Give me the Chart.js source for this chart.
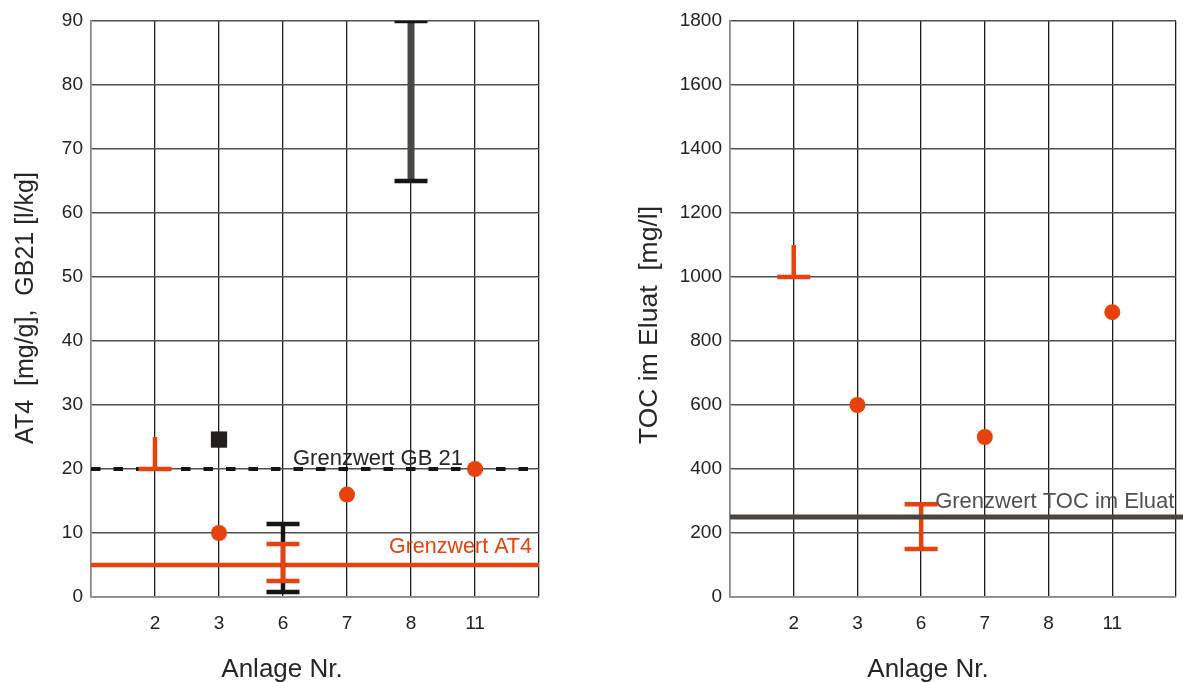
<!DOCTYPE html>
<html><head><meta charset="utf-8">
<script src="https://cdn.jsdelivr.net/npm/chart.js@4.4.1/dist/chart.umd.min.js"></script>
<style>
html,body{margin:0;padding:0;background:#fff;}
#wrap{position:relative;width:1183px;height:682px;overflow:hidden;background:#fff;}
.box{position:absolute;top:0;height:682px;}
#b1{left:0;width:560px;} #b2{left:620px;width:563px;}
canvas{display:block;}
</style></head><body>
<div id="wrap">
  <div class="box" id="b1"><canvas id="c1" width="560" height="682"></canvas></div>
  <div class="box" id="b2"><canvas id="c2" width="563" height="682"></canvas></div>
</div>
<script>
// ---------- data ----------
const categories = ['2', '3', '6', '7', '8', '11'];

// left panel: AT4 [mg/g] and GB21 [l/kg]
const at4Values   = [null, 10, null, 16, null, 20];
const at4Min      = [20, null, 2.5, null, null, null];
const at4Max      = [25, null, 8.3, null, null, null];
const at4OpenUpper = ['2'];
const gb21Values  = [null, 24.6, null, null, null, null];
const gb21Min     = [null, null, 0.8, null, null, null];
const gb21Max     = [null, null, 11.4, null, null, null];
const gb21BarMin  = [null, null, null, null, 65, null];
const gb21BarMax  = [null, null, null, null, 90, null];
const at4Limit  = 5;
const gb21Limit = 20;

// right panel: TOC im Eluat [mg/l]
const tocValues   = [null, 600, null, 500, null, 890];
const tocMin      = [1000, null, 150, null, null, null];
const tocMax      = [1100, null, 290, null, null, null];
const tocOpenUpper = ['2'];
const tocLimit  = 250;

// ---------- helpers ----------
const FONT = '"Liberation Sans", Arial, Helvetica, sans-serif';
const ORANGE = '#e9410b';
const xPos = i => i + 1;

function points(arr) {
  return arr.map((v, i) => v == null ? null : {x: xPos(i), y: v}).filter(Boolean);
}
function stems(minArr, maxArr, color, width, order) {
  const out = [];
  minArr.forEach((lo, i) => {
    const hi = maxArr[i];
    if (lo == null || hi == null) return;
    out.push({type: 'scatter', showLine: true, data: [{x: xPos(i), y: lo}, {x: xPos(i), y: hi}],
      borderColor: color, borderWidth: width, pointRadius: 0, order: order});
  });
  return out;
}
function caps(minArr, maxArr, openUpper, color, order) {
  const d = [];
  minArr.forEach((lo, i) => {
    if (lo != null) d.push({x: xPos(i), y: lo});
    const hi = maxArr[i];
    if (hi != null && !openUpper.includes(categories[i])) d.push({x: xPos(i), y: hi});
  });
  return {type: 'scatter', data: d, pointStyle: 'line', pointRadius: 16.5,
    pointBorderWidth: 4.5, pointBorderColor: color, pointBackgroundColor: color, order: order};
}
function hline(value, color, width, dash, order, xEnd) {
  return {type: 'scatter', showLine: true, data: [{x: 0, y: value}, {x: xEnd, y: value}],
    borderColor: color, borderWidth: width, borderDash: dash, pointRadius: 0, clip: false, order: order};
}

const textPlugin = {
  id: 'txt',
  afterDatasetsDraw(chart, args, o) {
    const {ctx, chartArea: a, scales: {x, y}} = chart;
    ctx.save();
    for (const l of o.labels) {
      ctx.font = l.font; ctx.fillStyle = l.color; ctx.textAlign = l.align; ctx.textBaseline = 'alphabetic';
      ctx.fillText(l.text, x.getPixelForValue(l.x), y.getPixelForValue(l.y) + l.dy);
    }
    ctx.font = '26px ' + FONT; ctx.fillStyle = '#262626'; ctx.textAlign = 'center'; ctx.textBaseline = 'alphabetic';
    ctx.fillText(o.xTitle, (a.left + a.right) / 2 + o.xTitleDx, 677);
    ctx.translate(o.yTitleX, (a.top + a.bottom) / 2 + o.yTitleDy);
    ctx.rotate(-Math.PI / 2);
    ctx.font = o.yTitleFont + ' ' + FONT; ctx.textBaseline = 'middle';
    ctx.fillText(o.yTitle, 0, 0);
    ctx.restore();
  }
};

function baseOptions(yMax, yStep, yWidth, rightPad, txt) {
  return {
    responsive: false, animation: false, events: [],
    layout: {autoPadding: false, padding: {top: 21, right: rightPad, left: 0, bottom: 0}},
    plugins: {legend: {display: false}, tooltip: {enabled: false}, txt: txt},
    scales: {
      x: {
        type: 'linear', min: 0, max: 7,
        afterFit: s => { s.height = 85; s.paddingLeft = 0; s.paddingRight = 0; },
        afterBuildTicks: s => { s.ticks = [0, 1, 2, 3, 4, 5, 6, 7].map(v => ({value: v})); },
        ticks: {autoSkip: false, maxRotation: 0, padding: 15, color: '#222',
          font: {size: 19, family: FONT}, callback: v => categories[v - 1] ?? ''},
        grid: {color: '#1c1c1c', lineWidth: 1.3, drawTicks: false},
        border: {color: '#8a8a8a', width: 1.5}
      },
      y: {
        min: 0, max: yMax,
        afterFit: s => { s.width = yWidth; },
        ticks: {stepSize: yStep, padding: 8, color: '#222', font: {size: 19, family: FONT},
          callback: v => String(v)},
        grid: {color: '#4f4f4f', lineWidth: 1.5, drawTicks: false},
        border: {color: '#8a8a8a', width: 1.5}
      }
    }
  };
}

// ---------- left chart ----------
new Chart(document.getElementById('c1'), {
  type: 'scatter',
  data: {datasets: [
    hline(gb21Limit, '#151515', 4, [9.5, 13], 6, 7),
    hline(at4Limit, ORANGE, 4.5, [], 5, 7),
    ...stems(gb21BarMin, gb21BarMax, '#4a4644', 7, 4),
    ...stems(gb21Min, gb21Max, '#151515', 4.5, 4),
    caps(gb21BarMin, gb21BarMax, [], '#151515', 3),
    caps(gb21Min, gb21Max, [], '#151515', 3),
    ...stems(at4Min, at4Max, ORANGE, 4.5, 2),
    caps(at4Min, at4Max, at4OpenUpper, ORANGE, 2),
    {type: 'scatter', data: points(gb21Values), pointStyle: 'rect', pointRadius: 11.5,
      pointBackgroundColor: '#231f1c', pointBorderWidth: 0, order: 1},
    {type: 'scatter', data: points(at4Values), pointStyle: 'circle', pointRadius: 8,
      pointBackgroundColor: ORANGE, pointBorderWidth: 0, order: 0}
  ]},
  options: baseOptions(90, 10, 91, 21, {
    labels: [
      {text: 'Grenzwert GB 21', x: 3.156, y: gb21Limit, dy: -4, align: 'left', color: '#262626', font: '22px ' + FONT},
      {text: 'Grenzwert AT4', x: 6.89, y: at4Limit, dy: -12, align: 'right', color: ORANGE, font: '21.5px ' + FONT}
    ],
    xTitle: 'Anlage Nr.', xTitleDx: -33,
    yTitle: 'AT4  [mg/g],  GB21 [l/kg]', yTitleX: 26, yTitleDy: -1, yTitleFont: '25px'
  }),
  plugins: [textPlugin]
});

// ---------- right chart ----------
new Chart(document.getElementById('c2'), {
  type: 'scatter',
  data: {datasets: [
    ...stems(tocMin, tocMax, ORANGE, 4.5, 4),
    caps(tocMin, tocMax, tocOpenUpper, ORANGE, 4),
    hline(tocLimit, '#4b433d', 5, [], 3, 7.11),
    {type: 'scatter', data: points(tocValues), pointStyle: 'circle', pointRadius: 8,
      pointBackgroundColor: ORANGE, pointBorderWidth: 0, order: 0}
  ]},
  options: baseOptions(1800, 200, 110, 7, {
    labels: [
      {text: 'Grenzwert TOC im Eluat', x: 3.22, y: tocLimit, dy: -9, align: 'left', color: '#505050', font: '22px ' + FONT}
    ],
    xTitle: 'Anlage Nr.', xTitleDx: -25,
    yTitle: 'TOC im Eluat  [mg/l]', yTitleX: 30, yTitleDy: 16, yTitleFont: '26.5px'
  }),
  plugins: [textPlugin]
});
</script>
</body></html>
